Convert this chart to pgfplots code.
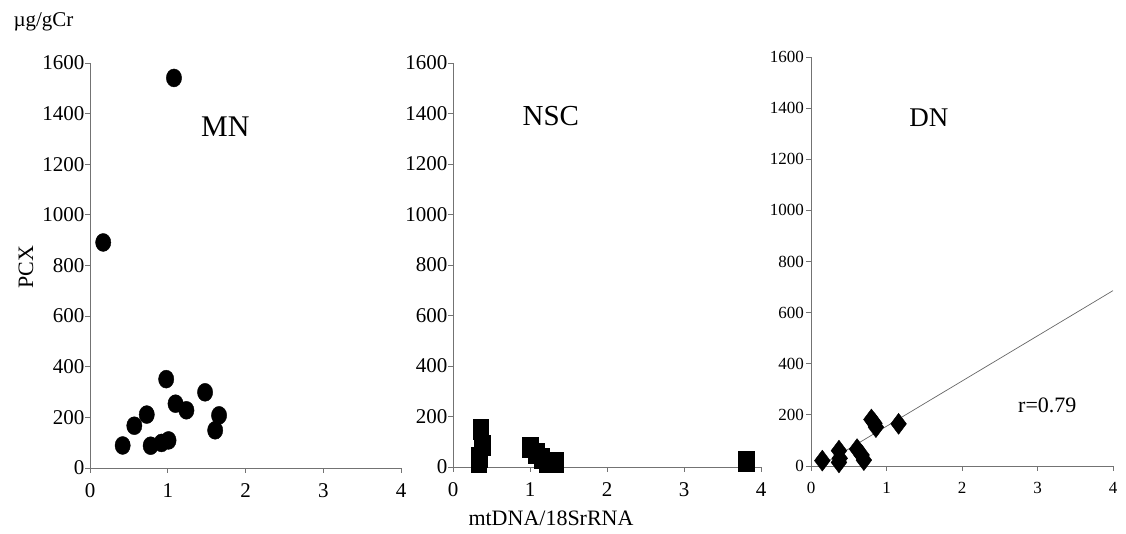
\documentclass[border=0pt]{standalone}
\usepackage{pgfplots}
\pgfplotsset{compat=1.18}
\usepackage{fontspec}
\setmainfont{Liberation Serif}
\pgfplotsset{
  panel/.style={
    scale only axis, anchor=south west,
    axis lines*=left,
    xmin=0,xmax=4,ymin=0,ymax=1600,
    xtick={0,1,2,3,4}, ytick={0,200,...,1600},
    tick align=outside, major tick length=5pt,
    axis line style={black!55, line width=0.8pt},
    major tick style={black!55, line width=0.8pt},
    clip=false, scaled ticks=false,
    /pgf/number format/1000 sep={},
    /pgf/number format/assume math mode=true,
  },
  bigticks/.style={
    yticklabel style={font=\fontsize{21}{21}\selectfont, inner sep=0.5pt},
    xticklabel style={font=\fontsize{21}{21}\selectfont, inner sep=2pt, yshift=-8pt},
  },
  smallticks/.style={
    yticklabel style={font=\fontsize{17}{17}\selectfont, inner sep=2pt},
    xticklabel style={font=\fontsize{17}{17}\selectfont, inner sep=2pt, yshift=-9pt},
  },
}
\begin{document}
\begin{tikzpicture}
\useasboundingbox (0pt,0pt) rectangle (1126pt,534pt);
% MN
\begin{axis}[panel, bigticks, at={(90pt,66pt)}, width=311pt, height=405pt]
\addplot[only marks, mark=*, mark size=9pt, mark options={xscale=0.85, fill=black}] coordinates {
(0.17,891) (1.08,1541) (0.98,351) (1.48,299) (1.10,254) (1.24,228) (1.66,208) (1.61,149)
(0.73,211) (0.57,167) (0.42,89) (0.78,88) (0.92,99) (1.01,109)};
\node[font=\fontsize{30}{30}\selectfont] at (axis cs:1.74,1350) {MN};
\end{axis}
% NSC
\begin{axis}[panel, bigticks, at={(453pt,67pt)}, width=308pt, height=404pt]
\addplot[only marks, mark=square*, mark size=10pt, mark options={xscale=0.77, fill=black}] coordinates {
(0.36,150) (0.38,88) (0.34,40) (0.33,18) (1.0,78) (1.08,55) (1.15,33) (1.22,20) (1.33,20) (3.81,22)};
\node[font=\fontsize{29}{29}\selectfont] at (axis cs:1.27,1391) {NSC};
\end{axis}
% DN
\begin{axis}[panel, smallticks, at={(811pt,68pt)}, width=302pt, height=409pt]
\addplot[black!60, line width=0.7pt] coordinates {(0.15,5) (4,686)};
\addplot[only marks, mark=diamond*, mark size=10.5pt, mark options={fill=black}] coordinates {
(0.15,21) (0.37,60) (0.38,30) (0.37,14) (0.61,66) (0.67,43) (0.70,23) (0.80,182) (0.84,167) (0.86,152) (1.16,165)};
\node[font=\fontsize{27}{27}\selectfont] at (axis cs:1.56,1364) {DN};
\node[font=\fontsize{22}{22}\selectfont] at (axis cs:3.13,237) {r=0.79};
\end{axis}
\node[anchor=west, font=\fontsize{21}{21}\selectfont] at (10pt,512pt) {µg/gCr};
\node[rotate=90, font=\fontsize{22}{22}\selectfont] at (26pt,267pt) {PCX};
\node[font=\fontsize{22}{22}\selectfont] at (551pt,16pt) {mtDNA/18SrRNA};
\end{tikzpicture}
\end{document}
